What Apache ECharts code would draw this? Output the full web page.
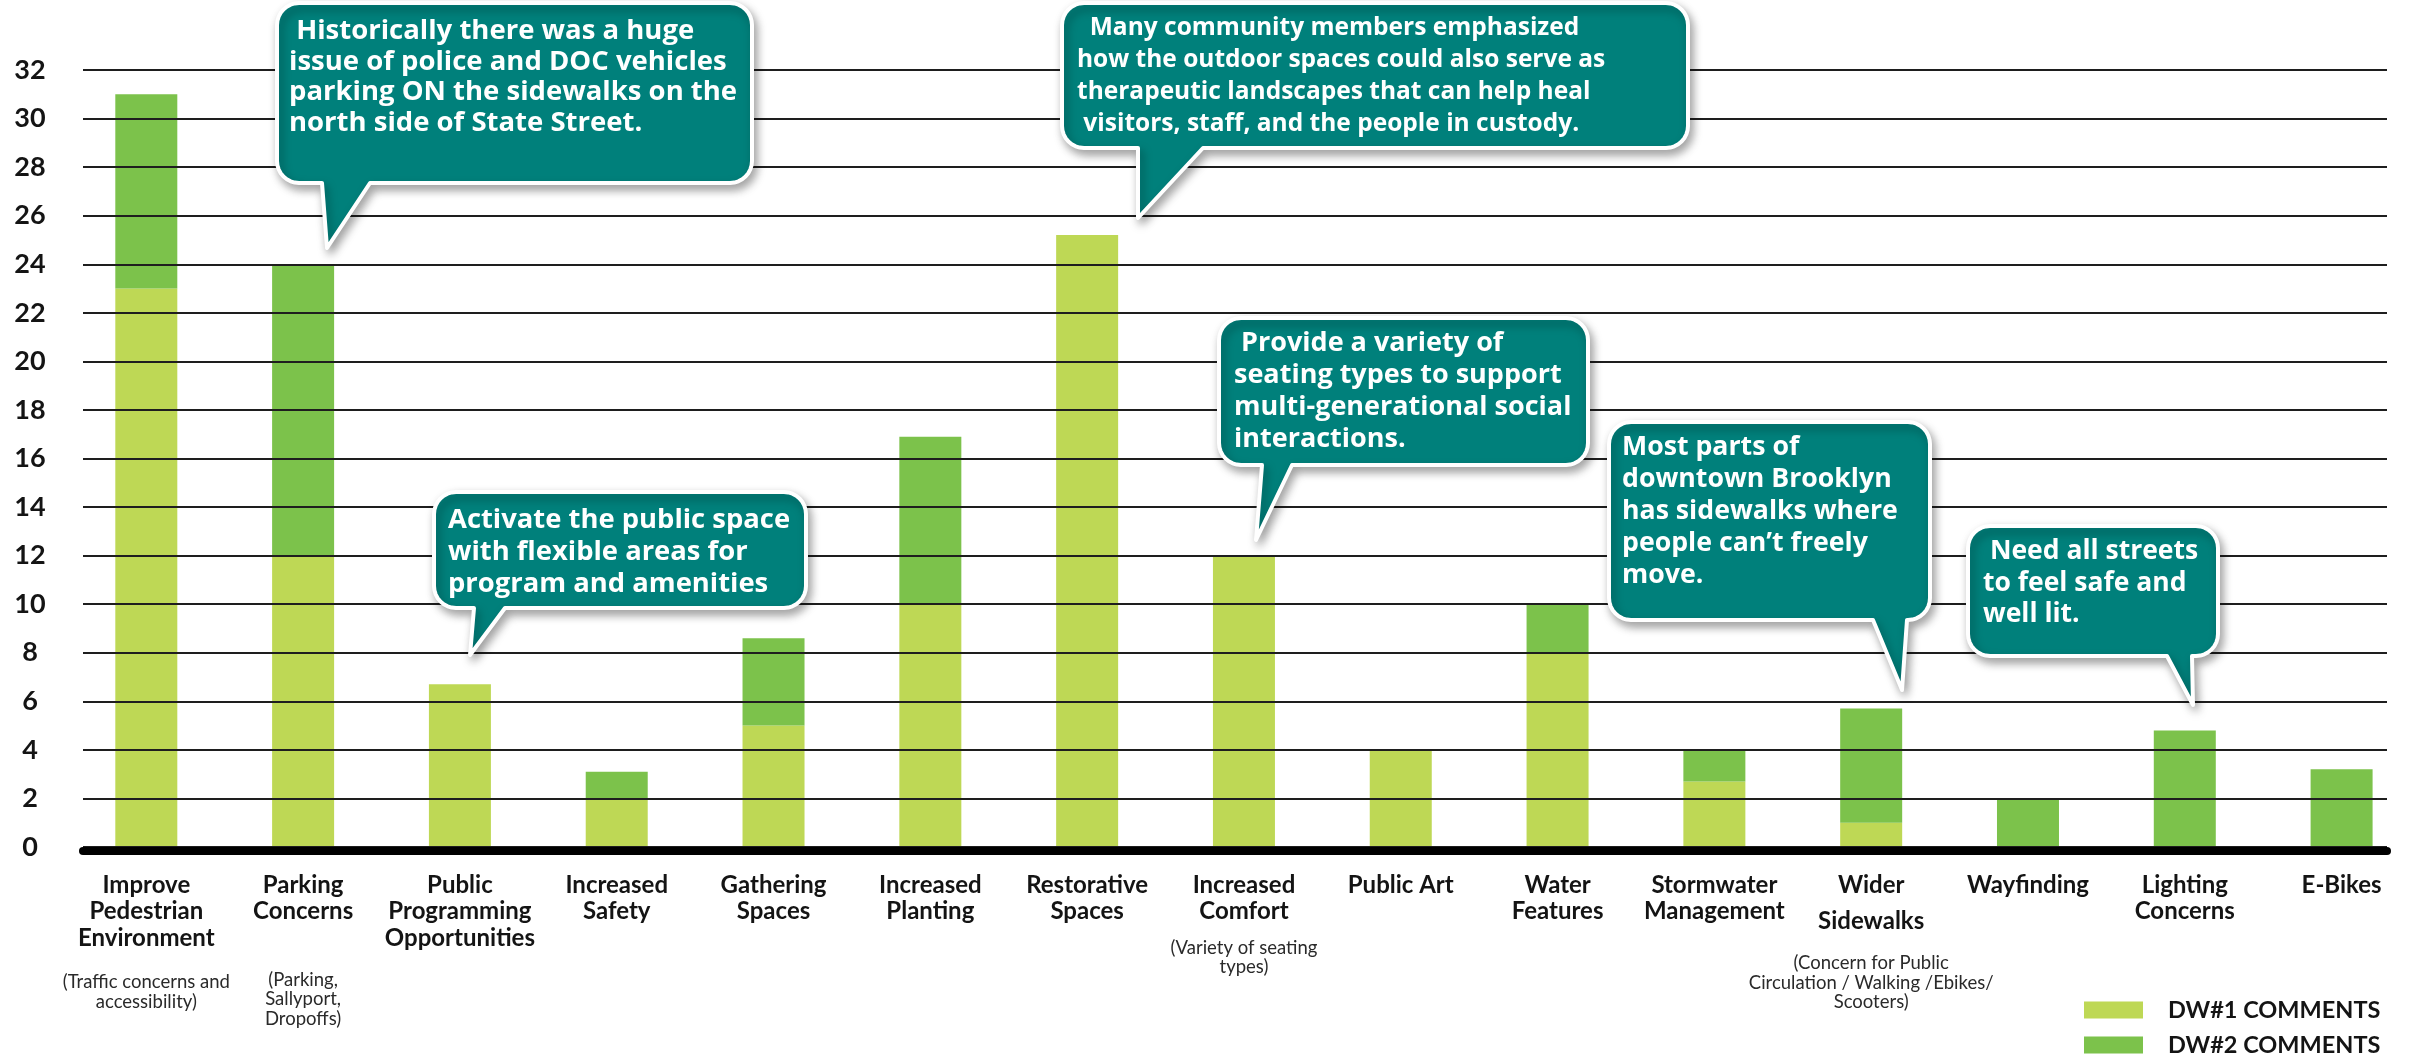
<!DOCTYPE html>
<html>
<head>
<meta charset="utf-8">
<script src="https://cdn.jsdelivr.net/npm/echarts@6/dist/echarts.min.js"></script>
<style>
html,body{margin:0;padding:0;background:#ffffff;}
#chart{width:2420px;height:1055px;}
</style>
</head>
<body>
<div id="chart"></div>
<script>
// ---------------- DATA ----------------
const categories = [
  'Improve\nPedestrian\nEnvironment',
  'Parking\nConcerns',
  'Public\nProgramming\nOpportunities',
  'Increased\nSafety',
  'Gathering\nSpaces',
  'Increased\nPlanting',
  'Restorative\nSpaces',
  'Increased\nComfort',
  'Public Art',
  'Water\nFeatures',
  'Stormwater\nManagement',
  'Wider\nSidewalks',
  'Wayfinding',
  'Lighting\nConcerns',
  'E-Bikes'
];
const categoryNotes = [
  '(Traffic concerns and\naccessibility)',
  '(Parking,\nSallyport,\nDropoffs)',
  '', '', '', '', '',
  '(Variety of seating\ntypes)',
  '', '', '',
  '(Concern for Public\nCirculation / Walking /Ebikes/\nScooters)',
  '', '', ''
];
const dw1Comments = [23, 12, 6.7, 2, 5, 10, 25.2, 12, 4, 8, 2.7, 1, 0, 0, 0];
const dw2Comments = [8, 12, 0, 1.1, 3.6, 6.9, 0, 0, 0, 2, 1.3, 4.7, 2, 4.8, 3.2];
const seriesNames = ['DW#1 COMMENTS', 'DW#2 COMMENTS'];
const yMin = 0, yMax = 32, yStep = 2;
const calloutTexts = [
  ' Historically there was a huge\nissue of police and DOC vehicles\nparking ON the sidewalks on the\nnorth side of State Street.',
  '  Many community members emphasized\nhow the outdoor spaces could also serve as\ntherapeutic landscapes that can help heal\n visitors, staff, and the people in custody.',
  ' Provide a variety of\nseating types to support\nmulti-generational social\ninteractions.',
  'Most parts of\ndowntown Brooklyn\nhas sidewalks where\npeople can\u2019t freely\nmove.',
  ' Need all streets\nto feel safe and\nwell lit.',
  'Activate the public space\nwith flexible areas for\nprogram and amenities'
];

// ---------------- LAYOUT / STYLE ----------------
const COLORS = { dw1: '#BED855', dw2: '#7CC24B', teal: '#00807B', grid: '#1e1e1e', text: '#141414' };
const FONT = 'Lato, "Open Sans", sans-serif';
const CALLOUT_FONT = '"Open Sans", Lato, sans-serif';
const noteGap = [21, 45, 0, 0, 0, 0, 0, 13, 0, 0, 0, 9, 0, 0, 0];
const calloutLayout = [
  { x: 277,  y: 3,   w: 475, h: 180, bl: 322,  br: 370,  tx: 327,  ty: 248, textX: 289,  textY: 16,  lh: 30.5, fs: 27.5 },
  { x: 1062, y: 3,   w: 626, h: 145, bl: 1138, br: 1203, tx: 1138, ty: 218, textX: 1077, textY: 12,  lh: 32,   fs: 24.5 },
  { x: 1219, y: 318, w: 369, h: 147, bl: 1262, br: 1292, tx: 1256, ty: 540, textX: 1234, textY: 327, lh: 32,   fs: 27 },
  { x: 1609, y: 422, w: 321, h: 198, bl: 1873, br: 1907, tx: 1902, ty: 690, textX: 1622, textY: 431, lh: 32,   fs: 26.7 },
  { x: 1968, y: 526, w: 250, h: 130, bl: 2167, br: 2192, tx: 2193, ty: 705, textX: 1983, textY: 536, lh: 31.5, fs: 26.5 },
  { x: 434,  y: 492, w: 372, h: 116, bl: 474,  br: 505,  tx: 470,  ty: 655, textX: 448,  textY: 504, lh: 32,   fs: 27.4 }
];
// bar grid: 15 equal bands, first centre at x=146.5, band 157.2 px
const BAR_GRID = { left: 67.9, width: 2358, top: 70, bottom: 208 };
// ruled grid (gridlines / baseline / y labels)
const RULE_GRID = { left: 83, right: 33, top: 70, bottom: 208 };

function arcPts(cx, cy, r, a0, a1) {
  const pts = [], n = 8;
  for (let k = 0; k <= n; k++) {
    const a = a0 + (a1 - a0) * k / n;
    pts.push([cx + r * Math.cos(a), cy + r * Math.sin(a)]);
  }
  return pts;
}
function bubblePoints(c) {
  const r = 22, x = c.x, y = c.y, w = c.w, b = c.y + c.h, P = Math.PI;
  let pts = [];
  pts = pts.concat(arcPts(x + r, y + r, r, P, 1.5 * P));
  pts = pts.concat(arcPts(x + w - r, y + r, r, 1.5 * P, 2 * P));
  pts = pts.concat(arcPts(x + w - r, b - r, r, 0, 0.5 * P));
  pts.push([c.br, b], [c.tx, c.ty], [c.bl, b]);
  pts = pts.concat(arcPts(x + r, b - r, r, 0.5 * P, P));
  return pts;
}

const graphics = [];
calloutLayout.forEach(function (c, i) {
  graphics.push({
    type: 'polygon', z: 100, silent: true,
    shape: { points: bubblePoints(c) },
    style: {
      fill: COLORS.teal, stroke: '#ffffff', lineWidth: 4, lineJoin: 'round',
      shadowBlur: 10, shadowColor: 'rgba(0,0,0,0.35)', shadowOffsetX: 3, shadowOffsetY: 5
    }
  });
  graphics.push({
    type: 'text', z: 101, silent: true,
    x: c.textX, y: c.textY,
    style: {
      text: calloutTexts[i], fill: '#ffffff',
      font: '700 ' + c.fs + 'px ' + CALLOUT_FONT, lineHeight: c.lh,
      align: 'left', verticalAlign: 'top'
    }
  });
});

const rich = {
  m: { fontFamily: FONT, fontSize: 24, fontWeight: 'bold', color: COLORS.text, lineHeight: 26.5 },
  m2: { fontFamily: FONT, fontSize: 24, fontWeight: 'bold', color: COLORS.text, lineHeight: 46 },
  s: { fontFamily: FONT, fontSize: 18.5, fontWeight: 'normal', color: '#2a2a2a', lineHeight: 19.5 }
};
noteGap.forEach(function (g, i) { rich['g' + i] = { fontSize: 1, lineHeight: g }; });

function labelFor(value, i) {
  const lines = categories[i].split('\n').map(function (t, k) {
    const style = (i === 11 && k === 1) ? 'm2' : 'm';
    return '{' + style + '|' + t + '}';
  });
  let out = lines.join('\n');
  if (categoryNotes[i]) {
    out += '\n{g' + i + '|\u00a0}\n' + categoryNotes[i].split('\n').map(function (t) { return '{s|' + t + '}'; }).join('\n');
  }
  return out;
}

const legendText = { fontFamily: FONT, fontSize: 23.5, fontWeight: 'bold', color: COLORS.text, padding: [0, 0, 0, 20] };

const chart = echarts.init(document.getElementById('chart'), null, { renderer: 'canvas' });
chart.setOption({
  animation: false,
  backgroundColor: '#ffffff',
  grid: [BAR_GRID, RULE_GRID],
  legend: [
    { data: [seriesNames[0]], left: 2084, top: 998, padding: 0, itemWidth: 59, itemHeight: 17, icon: 'rect', textStyle: legendText },
    { data: [seriesNames[1]], left: 2084, top: 1033, padding: 0, itemWidth: 59, itemHeight: 17, icon: 'rect', textStyle: legendText }
  ],
  xAxis: [
    {
      type: 'category', gridIndex: 0, data: categories,
      axisLine: { show: false }, axisTick: { show: false },
      axisLabel: { interval: 0, margin: 25, formatter: labelFor, rich: rich, align: 'center', verticalAlign: 'top' }
    },
    {
      type: 'value', gridIndex: 1, min: 0, max: 1, offset: 4, z: 6,
      axisLine: { show: true, onZero: false, lineStyle: { color: '#000000', width: 8, cap: 'round' } },
      axisTick: { show: false }, axisLabel: { show: false }, splitLine: { show: false }
    }
  ],
  yAxis: [
    { type: 'value', gridIndex: 0, min: yMin, max: yMax, interval: yStep, show: false, splitLine: { show: false } },
    {
      type: 'value', gridIndex: 1, min: yMin, max: yMax, interval: yStep, z: 3,
      axisLine: { show: false }, axisTick: { show: false },
      splitLine: { show: true, lineStyle: { color: COLORS.grid, width: 2 } },
      axisLabel: { fontFamily: FONT, fontSize: 27, fontWeight: 'bold', color: COLORS.text, align: 'center', margin: 53 }
    }
  ],
  series: [
    {
      name: seriesNames[0], type: 'bar', stack: 'comments', barWidth: 62,
      xAxisIndex: 0, yAxisIndex: 0,
      itemStyle: { color: COLORS.dw1 },
      data: dw1Comments
    },
    {
      name: seriesNames[1], type: 'bar', stack: 'comments', barWidth: 62,
      xAxisIndex: 0, yAxisIndex: 0,
      itemStyle: { color: COLORS.dw2 },
      data: dw2Comments
    }
  ],
  graphic: graphics
});
</script>
</body>
</html>
